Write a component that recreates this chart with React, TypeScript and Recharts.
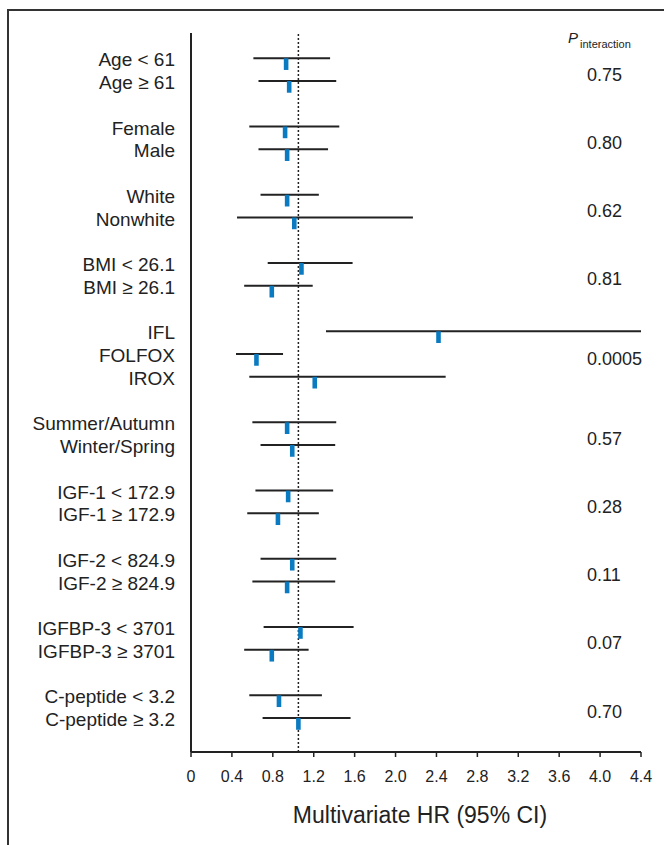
import { ReferenceLine, Scatter, ScatterChart, XAxis, YAxis } from 'recharts';

const labels = [
  'Age < 61', 'Age ≥ 61',
  'Female', 'Male',
  'White', 'Nonwhite',
  'BMI < 26.1', 'BMI ≥ 26.1',
  'IFL', 'FOLFOX', 'IROX',
  'Summer/Autumn', 'Winter/Spring',
  'IGF-1 < 172.9', 'IGF-1 ≥ 172.9',
  'IGF-2 < 824.9', 'IGF-2 ≥ 824.9',
  'IGFBP-3 < 3701', 'IGFBP-3 ≥ 3701',
  'C-peptide < 3.2', 'C-peptide ≥ 3.2',
];
const hr = [0.93, 0.96, 0.92, 0.94, 0.94, 1.01, 1.08, 0.79, 2.42, 0.64, 1.21, 0.94, 0.99, 0.95, 0.85, 0.99, 0.94, 1.07, 0.79, 0.86, 1.05];
const lower = [0.61, 0.66, 0.57, 0.66, 0.68, 0.45, 0.75, 0.52, 1.32, 0.44, 0.57, 0.6, 0.68, 0.63, 0.55, 0.68, 0.6, 0.71, 0.52, 0.57, 0.7];
const upper = [1.36, 1.42, 1.45, 1.34, 1.25, 2.17, 1.58, 1.19, 4.4, 0.9, 2.49, 1.42, 1.41, 1.39, 1.25, 1.42, 1.41, 1.59, 1.15, 1.28, 1.56];
const groupSizes = [2, 2, 2, 2, 3, 2, 2, 2, 2, 2];
const pValues = ['0.75', '0.80', '0.62', '0.81', '0.0005', '0.57', '0.28', '0.11', '0.07', '0.70'];
const xTicks = [0, 0.4, 0.8, 1.2, 1.6, 2.0, 2.4, 2.8, 3.2, 3.6, 4.0, 4.4];
const referenceHR = 1.05;

// each group takes its rows plus one blank row after it
const rowIndex: number[] = [];
const pRows: number[] = [];
let r = 0;
groupSizes.forEach((size) => {
  const start = r;
  for (let i = 0; i < size; i++) rowIndex.push(r++);
  pRows.push((start + r - 1) / 2);
  r++;
});

const data = labels.map((label, i) => ({
  label,
  row: rowIndex[i],
  hr: hr[i],
  lo: lower[i],
  hi: upper[i],
}));

const FONT = '"Liberation Sans", Arial, sans-serif';
const INK = '#222';
const BLUE = '#0b7bc1';
const yDomain = [-1.11, 30.49];

const Marker = (props: any) => {
  const { cx, cy } = props;
  return <rect x={cx - 2.3} y={cy} width={4.6} height={11.7} fill={BLUE} />;
};

const LabelTick = (props: any) => {
  const { x, y, payload } = props;
  const i = rowIndex.indexOf(payload.value);
  return (
    <text x={x} y={y + 8} textAnchor="end" fontSize={19} fill={INK} fontFamily={FONT}>
      {labels[i]}
    </text>
  );
};

const PTick = (props: any) => {
  const { x, y, payload } = props;
  const i = pRows.indexOf(payload.value);
  return (
    <text x={x - 54} y={y + 11} textAnchor="start" fontSize={18} fill={INK} fontFamily={FONT}>
      {pValues[i]}
    </text>
  );
};

const PHeader = (props: any) => {
  const vb = props.viewBox;
  return (
    <text x={vb.x - 73} y={vb.y + 10} fill={INK} fontFamily={FONT}>
      <tspan fontSize={15} fontStyle="italic">P</tspan>
      <tspan fontSize={11} dx={2} dy={5}>interaction</tspan>
    </text>
  );
};

const AxisTitle = (props: any) => {
  const vb = props.viewBox;
  return (
    <text x={vb.x + vb.width / 2 + 4} y={vb.y + 71} textAnchor="middle" fontSize={23} fill={INK} fontFamily={FONT}>
      Multivariate HR (95% CI)
    </text>
  );
};

export default function App() {
  return (
    <div style={{ position: 'relative', width: 664, height: 845, background: '#fff', fontFamily: FONT }}>
      <style>{'body{margin:0}'}</style>
      <div
        style={{
          position: 'absolute',
          left: 7,
          top: 9,
          width: 657,
          height: 836,
          borderTop: '2px solid #333',
          borderLeft: '2px solid #333',
          boxSizing: 'border-box',
        }}
      />
      <ScatterChart width={664} height={845} margin={{ top: 33, right: 0, bottom: 0, left: 0 }}>
        <XAxis
          type="number"
          dataKey="hr"
          domain={[0, 4.4]}
          ticks={xTicks}
          interval={0}
          allowDataOverflow
          tickFormatter={(v: number) => (v === 0 ? '0' : v.toFixed(1))}
          height={93}
          tickSize={5}
          tickMargin={14}
          axisLine={{ stroke: INK, strokeWidth: 2 }}
          tickLine={{ stroke: INK, strokeWidth: 1.5 }}
          tick={{ fontSize: 16, fill: INK, fontFamily: FONT }}
          label={{ content: AxisTitle }}
        />
        <YAxis
          yAxisId="left"
          type="number"
          dataKey="row"
          domain={yDomain}
          reversed
          allowDataOverflow
          ticks={rowIndex}
          interval={0}
          width={191}
          axisLine={{ stroke: INK, strokeWidth: 2 }}
          tickLine={false}
          tickSize={8}
          tickMargin={8}
          tick={LabelTick}
        />
        <YAxis
          yAxisId="right"
          orientation="right"
          type="number"
          domain={yDomain}
          reversed
          allowDataOverflow
          ticks={pRows}
          interval={0}
          width={23}
          axisLine={false}
          tickLine={false}
          tickSize={0}
          tickMargin={0}
          tick={PTick}
          label={{ content: PHeader }}
        />
        <ReferenceLine yAxisId="left" x={referenceHR} stroke={INK} strokeWidth={1.5} strokeDasharray="2 2" />
        {data.map((d) => (
          <ReferenceLine
            key={d.label}
            yAxisId="left"
            segment={[{ x: d.lo, y: d.row }, { x: d.hi, y: d.row }]}
            stroke={INK}
            strokeWidth={2}
            ifOverflow="extendDomain"
          />
        ))}
        <Scatter yAxisId="left" data={data} shape={Marker} isAnimationActive={false} />
      </ScatterChart>
    </div>
  );
}
